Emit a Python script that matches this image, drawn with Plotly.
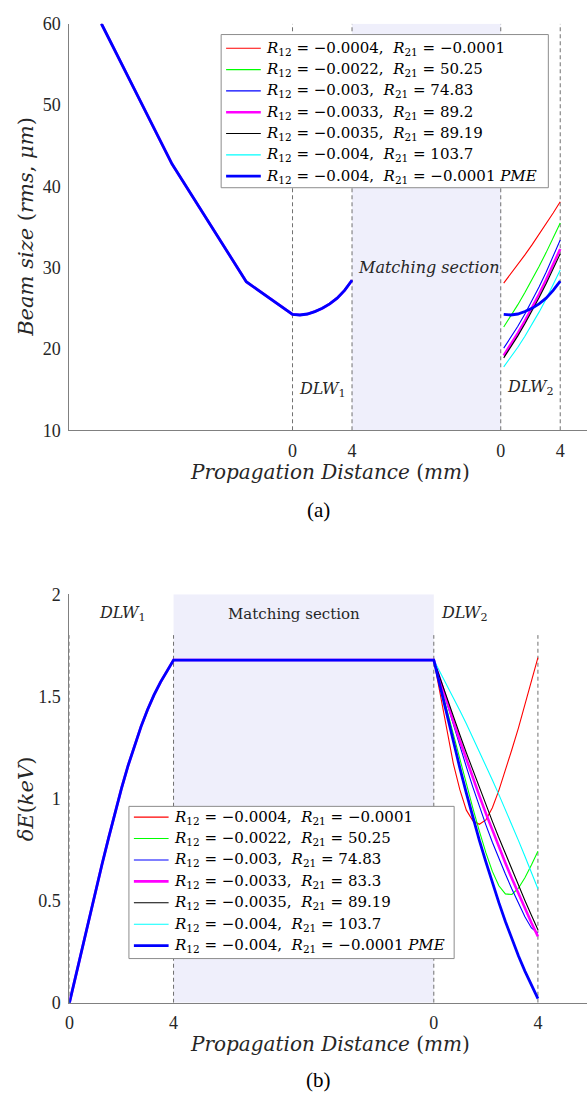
import plotly.graph_objects as go

SERIF = "DejaVu Serif"
TIMES = "Liberation Serif"
INK = "#262626"

# Stitched propagation axis (mm): DLW1 spans 0-4, matching section 4-14, DLW2 14-18
DLW2_START = 14

# ---------------- (a) beam size, rms in micrometres ----------------
pre_x = [-12.85, -8.11, -3.11]
pre_beam = [60.0, 42.77, 28.27]

dlw1_x_a = [0, 0.5, 1, 1.5, 2, 2.5, 3, 3.5, 4]
beam_dlw1 = [24.25, 24.18, 24.3, 24.6, 25.0, 25.55, 26.25, 27.2, 28.45]

dlw2_x_a = [0.2, 0.675, 1.15, 1.625, 2.1, 2.575, 3.05, 3.525, 4.0]
beam_red = [28.1, 29.22, 30.38, 31.57, 32.8, 34.07, 35.38, 36.72, 38.1]
beam_green = [22.7, 24.04, 25.45, 26.94, 28.5, 30.14, 31.85, 33.64, 35.5]
beam_blue = [20.1, 21.39, 22.79, 24.29, 25.9, 27.62, 29.44, 31.37, 33.4]
beam_magenta = [19.2, 20.53, 21.95, 23.46, 25.05, 26.73, 28.5, 30.36, 32.3]
beam_black = [18.9, 20.22, 21.61, 23.09, 24.65, 26.29, 28.01, 29.82, 31.7]
beam_cyan = [17.8, 18.96, 20.21, 21.56, 23.0, 24.53, 26.16, 27.88, 29.7]
beam_pme = [24.25, 24.18, 24.3, 24.6, 25.0, 25.55, 26.25, 27.2, 28.35]

# ---------------- (b) energy spread, keV ----------------
dlw1_x_b = [0, 0.25, 0.5, 0.75, 1, 1.25, 1.5, 1.75, 2, 2.25, 2.5, 2.75, 3, 3.25, 3.5, 3.75, 4]
de_dlw1 = [0, 0.138, 0.275, 0.411, 0.545, 0.677, 0.805, 0.93, 1.05, 1.16, 1.26,
           1.352, 1.435, 1.507, 1.57, 1.626, 1.678]
matching_x = [4, 14]
de_matching = [1.678, 1.678]

dlw2_x_b = [0, 0.25, 0.5, 0.75, 1, 1.25, 1.5, 1.75, 2, 2.25, 2.5, 2.75, 3, 3.25, 3.5, 3.75, 4]
de_red = [1.678, 1.51, 1.333, 1.171, 1.043, 0.943, 0.891, 0.874, 0.895, 0.955, 1.04,
          1.135, 1.24, 1.345, 1.462, 1.578, 1.69]
de_green = [1.678, 1.555, 1.433, 1.31, 1.19, 1.07, 0.953, 0.84, 0.735, 0.643, 0.573,
            0.533, 0.53, 0.561, 0.612, 0.674, 0.742]
de_blue = [1.678, 1.572, 1.466, 1.361, 1.257, 1.155, 1.056, 0.961, 0.871, 0.786, 0.706,
           0.63, 0.557, 0.487, 0.421, 0.366, 0.341]
de_magenta = [1.678, 1.576, 1.476, 1.379, 1.284, 1.191, 1.101, 1.013, 0.927, 0.844, 0.763,
              0.684, 0.608, 0.533, 0.462, 0.392, 0.325]
de_black = [1.678, 1.584, 1.492, 1.401, 1.312, 1.224, 1.138, 1.053, 0.97, 0.888, 0.808,
            0.729, 0.652, 0.576, 0.501, 0.428, 0.357]
de_cyan = [1.678, 1.618, 1.557, 1.495, 1.431, 1.366, 1.299, 1.231, 1.162, 1.091, 1.019,
           0.946, 0.871, 0.795, 0.717, 0.638, 0.558]
de_pme = [1.678, 1.543, 1.41, 1.279, 1.15, 1.026, 0.905, 0.795, 0.69, 0.588, 0.49,
          0.398, 0.31, 0.23, 0.155, 0.085, 0.02]

# ---------------- series descriptions ----------------
r12_values = ["−0.0004", "−0.0022", "−0.003", "−0.0033", "−0.0035", "−0.004", "−0.004"]
r21_values_a = ["−0.0001", "50.25", "74.83", "89.2", "89.19", "103.7", "−0.0001"]
r21_values_b = ["−0.0001", "50.25", "74.83", "83.3", "89.19", "103.7", "−0.0001"]
series_colors = ["#ff0000", "#00ff00", "#0000ff", "#ff00ff", "#000000", "#00ffff", "#0000ff"]
series_widths = [1.1, 1.1, 1.1, 2.6, 1.1, 1.1, 2.8]

beam_series = [beam_red, beam_green, beam_blue, beam_magenta, beam_black, beam_cyan, beam_pme]
de_series = [de_red, de_green, de_blue, de_magenta, de_black, de_cyan, de_pme]


def label(r12, r21, last):
    txt = f"<i>R</i><sub>12</sub> = {r12},  <i>R</i><sub>21</sub> = {r21}"
    if last:
        txt += " <i>PME</i>"
    return txt


labels_a = [label(r12_values[i], r21_values_a[i], i == 6) for i in range(7)]
labels_b = [label(r12_values[i], r21_values_b[i], i == 6) for i in range(7)]

fig = go.Figure()

n = len(beam_series)
for i in range(n):
    xa = pre_x + dlw1_x_a + [None] + [DLW2_START + v for v in dlw2_x_a]
    ya = pre_beam + beam_dlw1 + [None] + beam_series[i]
    fig.add_trace(go.Scatter(
        x=xa, y=ya, mode="lines", xaxis="x", yaxis="y", name=labels_a[i],
        line=dict(color=series_colors[i], width=series_widths[i]),
        connectgaps=False, showlegend=False,
    ))

for i in range(n):
    xb = dlw1_x_b + matching_x + [DLW2_START + v for v in dlw2_x_b]
    yb = de_dlw1 + de_matching + de_series[i]
    fig.add_trace(go.Scatter(
        x=xb, y=yb, mode="lines", xaxis="x2", yaxis="y2", name=labels_b[i],
        line=dict(color=series_colors[i], width=series_widths[i]),
        showlegend=False,
    ))

W, H = 587, 1108
x_dom = [65 / W, 1.0]
ya_dom = [1 - 428 / H, 1 - 14 / H]
yb_dom = [1 - 1011 / H, 1 - 595 / H]

boundaries = [0, 4, DLW2_START, DLW2_START + 4]
tick_text = ["0", "4", "0", "4"]

axis_common = dict(
    showline=True, linecolor="#808080", linewidth=1, ticks="", showgrid=False,
    zeroline=False, tickfont=dict(family=TIMES, size=18, color=INK),
    ticklabelstandoff=4,
)

shade = "#efeffb"
grid_dash = dict(color="#707070", width=1, dash="4px,3px")
shapes = [
    dict(type="rect", xref="x", yref="y", x0=4, x1=14, y0=10, y1=60,
         fillcolor=shade, line=dict(width=0), layer="below"),
    dict(type="rect", xref="x2", yref="y2", x0=4, x1=14, y0=0, y1=2,
         fillcolor=shade, line=dict(width=0), layer="below"),
]
for b in boundaries:
    shapes.append(dict(type="line", xref="x", yref="y", x0=b, x1=b, y0=10, y1=60,
                       line=grid_dash, layer="below"))
    shapes.append(dict(type="line", xref="x2", yref="y2", x0=b, x1=b, y0=0, y1=1.8,
                       line=grid_dash, layer="below"))

txt_font = dict(family=SERIF, size=16, color=INK)
title_font = dict(family=SERIF, size=20, color=INK)
annotations = [
    # section labels, panel (a)
    dict(x=0.3, y=15, xref="x", yref="y", text="<i>DLW</i><sub>1</sub>",
         showarrow=False, xanchor="left", yanchor="middle", font=txt_font),
    dict(x=4.3, y=30, xref="x", yref="y", text="<i>Matching section</i>",
         showarrow=False, xanchor="left", yanchor="middle", font=txt_font),
    dict(x=14.3, y=15.2, xref="x", yref="y", text="<i>DLW</i><sub>2</sub>",
         showarrow=False, xanchor="left", yanchor="middle", font=txt_font),
    # section labels, panel (b)
    dict(x=1.07, y=1.904, xref="x2", yref="y2", text="<i>DLW</i><sub>1</sub>",
         showarrow=False, xanchor="left", yanchor="middle", font=txt_font),
    dict(x=6.0, y=1.904, xref="x2", yref="y2", text="Matching section",
         showarrow=False, xanchor="left", yanchor="middle",
         font=dict(family=SERIF, size=15, color=INK)),
    dict(x=14.2, y=1.904, xref="x2", yref="y2", text="<i>DLW</i><sub>2</sub>",
         showarrow=False, xanchor="left", yanchor="middle", font=txt_font),
    # axis titles
    dict(x=21 / W, y=1 - 221 / H, xref="paper", yref="paper", textangle=-90,
         xanchor="center", yanchor="middle",
         text="<i>Beam size</i> (<i>rms</i>, <i>μm</i>)", showarrow=False,
         font=dict(family=SERIF, size=21, color=INK)),
    dict(x=21 / W, y=1 - 803 / H, xref="paper", yref="paper", textangle=-90,
         xanchor="center", yanchor="middle",
         text="<i>δE</i>(<i>keV</i>)", showarrow=False,
         font=dict(family=SERIF, size=21, color=INK)),
    dict(x=328 / W, y=1 - 471 / H, xref="paper", yref="paper",
         xanchor="center", yanchor="middle",
         text="<i>Propagation Distance</i> (<i>mm</i>)", showarrow=False,
         font=title_font),
    dict(x=328 / W, y=1 - 1053 / H, xref="paper", yref="paper",
         xanchor="center", yanchor="middle",
         text="<i>Propagation Distance</i> (<i>mm</i>)", showarrow=False,
         font=title_font),
    # panel captions
    dict(x=316 / W, y=1 - 509 / H, xref="paper", yref="paper", text="(a)",
         xanchor="center", yanchor="middle",
         showarrow=False, font=dict(family=TIMES, size=21, color="#000")),
    dict(x=316 / W, y=1 - 1090 / H, xref="paper", yref="paper", text="(b)",
         xanchor="center", yanchor="middle",
         showarrow=False, font=dict(family=TIMES, size=21, color="#000")),
]


def add_legend(labels, box, first_row, row_step, sample_x, text_x):
    """Boxed key: a line sample and a label per series, in pixel placement."""
    bx0, by0, bx1, by1 = box
    shapes.append(dict(type="rect", xref="paper", yref="paper",
                       x0=bx0 / W, x1=bx1 / W, y0=1 - by1 / H, y1=1 - by0 / H,
                       fillcolor="white", line=dict(color="#8c8c8c", width=1),
                       layer="above"))
    for k, lab in enumerate(labels):
        yc = first_row + row_step * k
        shapes.append(dict(type="line", xref="paper", yref="paper",
                           x0=sample_x[0] / W, x1=sample_x[1] / W,
                           y0=1 - yc / H, y1=1 - yc / H, layer="above",
                           line=dict(color=series_colors[k], width=series_widths[k])))
        annotations.append(dict(x=text_x / W, y=1 - yc / H, xref="paper", yref="paper",
                                text=lab, showarrow=False, xanchor="left",
                                yanchor="middle",
                                font=dict(family=SERIF, size=15, color="#000")))


add_legend(labels_a, (218, 25, 548, 181), 39, 21.7, (223, 258), 261)
add_legend(labels_b, (125, 811, 453, 966), 822, 21.8, (130, 165), 168)

fig.update_layout(
    width=W, height=H,
    margin=dict(l=0, r=0, t=0, b=0),
    paper_bgcolor="white", plot_bgcolor="white",
    showlegend=False,
    xaxis=dict(domain=x_dom, anchor="y", range=[-15, 19.8],
               tickvals=boundaries, ticktext=tick_text, **axis_common),
    yaxis=dict(domain=ya_dom, anchor="x", range=[10, 60],
               tickvals=[10, 20, 30, 40, 50, 60], **axis_common),
    xaxis2=dict(domain=x_dom, anchor="y2", range=[0, 19.886],
                tickvals=boundaries, ticktext=tick_text, **axis_common),
    yaxis2=dict(domain=yb_dom, anchor="x2", range=[0, 2],
                tickvals=[0, 0.5, 1, 1.5, 2], ticktext=["0", "0.5", "1", "1.5", "2"],
                **axis_common),
    shapes=shapes,
    annotations=annotations,
)

fig.write_html("out.html")
